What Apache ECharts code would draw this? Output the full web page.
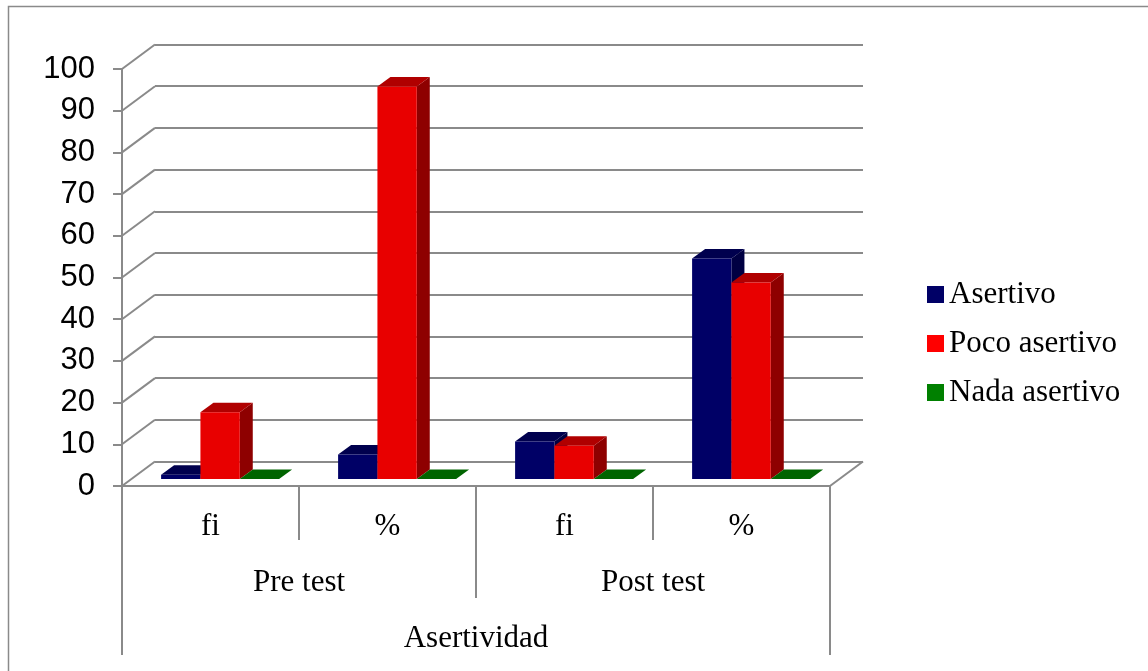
<!DOCTYPE html>
<html>
<head>
<meta charset="utf-8">
<script src="https://cdn.jsdelivr.net/npm/echarts@6/dist/echarts.min.js"></script>
<style>
  html, body { margin: 0; padding: 0; background: #fff; }
  #chart { width: 1148px; height: 671px; }
</style>
</head>
<body>
<div id="chart"></div>
<script>
// data
const categories = ["fi", "%", "fi", "%"];
const groups = ["Pre test", "Post test"];
const topGroup = ["Asertividad"];
const yTicks = [0, 10, 20, 30, 40, 50, 60, 70, 80, 90, 100];
const asertivo = [1, 5.9, 9, 52.9];
const pocoAsertivo = [16, 94.1, 8, 47.1];
const nadaAsertivo = [0, 0, 0, 0];

// 3d look
const GRAY = "#8a8a8a";
const WALL_DX = 33, WALL_DY = -24.5;   // front -> back wall
const FRONT_DX = 9.6, FRONT_DY = -7;   // front -> bar front face
const BAR_DX = 13, BAR_DY = -9.5;      // bar depth
const GAP = 1.5;
const SERIF = "Liberation Serif";
const SANS = "Liberation Sans";

const seriesDefs = [
  { name: "Asertivo", data: asertivo, legend: "#000066", front: "#000066", top: "#00004e", side: "#000042" },
  { name: "Poco asertivo", data: pocoAsertivo, legend: "#ff0000", front: "#e80000", top: "#b00000", side: "#8e0000" },
  { name: "Nada asertivo", data: nadaAsertivo, legend: "#008000", front: "#007000", top: "#006400", side: "#004d00" },
];

function barRenderer(k, def) {
  return function (params, api) {
    const idx = api.value(0);
    const base = api.coord([idx, 0]);
    const top = api.coord([idx, api.value(1)]);
    const band = api.size([1, 0])[0];
    const w = band / (seriesDefs.length + GAP);
    const x = base[0] - (seriesDefs.length / 2) * w + k * w + FRONT_DX;
    const y0 = base[1] + FRONT_DY;
    const y1 = top[1] + FRONT_DY;
    return {
      type: "group",
      children: [
        {
          type: "polygon",
          shape: { points: [[x + w, y1], [x + w + BAR_DX, y1 + BAR_DY], [x + w + BAR_DX, y0 + BAR_DY], [x + w, y0]] },
          style: { fill: def.side },
        },
        {
          type: "polygon",
          shape: { points: [[x, y1], [x + w, y1], [x + w + BAR_DX, y1 + BAR_DY], [x + BAR_DX, y1 + BAR_DY]] },
          style: { fill: def.top },
        },
        {
          type: "rect",
          shape: { x: x, y: y1, width: w, height: y0 - y1 },
          style: { fill: def.front },
        },
      ],
    };
  };
}

// left wall + floor diagonals
function wallRenderer(params, api) {
  const v = api.value(1);
  const p = api.coord([0, v]);
  const band = api.size([1, 0])[0];
  const xl = p[0] - band / 2;
  const children = [
    {
      type: "line",
      shape: { x1: xl, y1: p[1], x2: xl + WALL_DX, y2: p[1] + WALL_DY },
      style: { stroke: GRAY, lineWidth: 2 },
    },
  ];
  if (v === 0) {
    const xr = xl + band * categories.length;
    children.push({
      type: "line",
      shape: { x1: xr, y1: p[1], x2: xr + WALL_DX, y2: p[1] + WALL_DY },
      style: { stroke: GRAY, lineWidth: 2 },
    });
  }
  return { type: "group", children: children };
}

const myChart = echarts.init(document.getElementById("chart"));

const option = {
  animation: false,
  backgroundColor: "#fff",
  graphic: [
    {
      type: "rect",
      shape: { x: 8.5, y: 6.5, width: 1200, height: 700 },
      style: { fill: "none", stroke: GRAY, lineWidth: 1.5 },
      silent: true,
    },
  ],
  legend: {
    data: seriesDefs.map((d) => d.name),
    orient: "vertical",
    left: 922,
    top: 274,
    icon: "rect",
    itemWidth: 17,
    itemHeight: 17,
    itemGap: 18,
    selectedMode: false,
    textStyle: { fontFamily: SERIF, fontSize: 31, color: "#000" },
  },
  grid: [
    { left: 122, right: 318, top: 69, bottom: 185 },
    { left: 122 + WALL_DX, right: 318 - WALL_DX, top: 69 + WALL_DY, bottom: 185 - WALL_DY },
  ],
  xAxis: [
    {
      type: "category",
      gridIndex: 0,
      data: categories,
      axisLine: { show: true, lineStyle: { color: GRAY, width: 2 } },
      axisTick: { show: true, length: 54, lineStyle: { color: GRAY, width: 2 } },
      axisLabel: { margin: 25, fontFamily: SERIF, fontSize: 31, color: "#000" },
      splitLine: { show: false },
    },
    {
      type: "category",
      gridIndex: 0,
      position: "bottom",
      data: groups,
      axisLine: { show: false },
      axisTick: { show: true, length: 112, lineStyle: { color: GRAY, width: 2 } },
      axisLabel: { margin: 81, fontFamily: SERIF, fontSize: 31, color: "#000" },
      splitLine: { show: false },
    },
    {
      type: "category",
      gridIndex: 0,
      position: "bottom",
      data: topGroup,
      axisLine: { show: false },
      axisTick: { show: true, length: 169, lineStyle: { color: GRAY, width: 2 } },
      axisLabel: { margin: 137, fontFamily: SERIF, fontSize: 31, color: "#000" },
      splitLine: { show: false },
    },
    {
      type: "category",
      gridIndex: 1,
      data: categories,
      show: false,
    },
  ],
  yAxis: [
    {
      type: "value",
      gridIndex: 0,
      min: 0,
      max: 100,
      interval: 10,
      axisLine: { show: true, lineStyle: { color: GRAY, width: 2 } },
      axisTick: { show: true, length: 9, lineStyle: { color: GRAY, width: 2 } },
      axisLabel: { margin: 27, fontFamily: SANS, fontSize: 31, color: "#000" },
      splitLine: { show: false },
    },
    {
      type: "value",
      gridIndex: 1,
      min: 0,
      max: 100,
      interval: 10,
      axisLine: { show: false },
      axisTick: { show: false },
      axisLabel: { show: false },
      splitLine: { show: true, lineStyle: { color: GRAY, width: 2 } },
    },
  ],
  series: [
    {
      type: "custom",
      name: "wall",
      xAxisIndex: 0,
      yAxisIndex: 0,
      silent: true,
      renderItem: wallRenderer,
      encode: { x: 0, y: 1 },
      data: yTicks.map((v) => [0, v]),
      z: 1,
    },
  ].concat(
    seriesDefs.map((def, k) => ({
      type: "custom",
      name: def.name,
      xAxisIndex: 0,
      yAxisIndex: 0,
      itemStyle: { color: def.legend },
      renderItem: barRenderer(k, def),
      encode: { x: 0, y: 1 },
      data: def.data.map((v, i) => [i, v]),
      z: 3,
    }))
  ),
};

myChart.setOption(option);
</script>
</body>
</html>
